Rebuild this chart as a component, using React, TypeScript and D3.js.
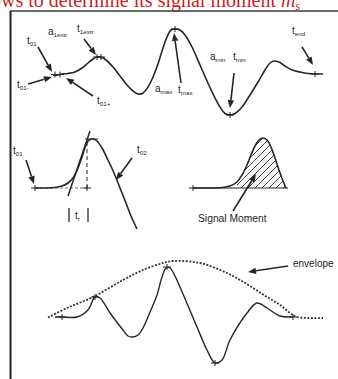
import React from 'react';
import * as d3 from 'd3';

// ---- data (panel units: t = time, a = amplitude above baseline) ----
const topT = [0, 5, 9, 15, 22, 29, 35, 40, 44, 48, 53, 60, 67, 74, 80, 85, 90, 95, 100, 105, 110, 114, 118, 122, 127, 132, 139, 147, 154, 161, 167, 172, 177, 182, 189, 197, 205, 212, 217, 221, 226, 232, 239, 247, 255, 262, 270];
const topA = [-1, -1, 0, 0.5, 2, 6, 11, 15, 17, 17, 14, 7, -2, -11, -17, -20, -19, -13, -3, 10, 26, 37, 44, 45, 44, 39, 27, 9, -7, -22, -33, -39.5, -41, -39.5, -33, -21, -8, 4, 11, 13, 12, 8, 4, 2, 0.5, 0, 0];
const topMarks = [[2, -0.5], [7, -0.5], [44, 17], [48, 17], [122, 45], [177, -41], [262, 0]];

const riseT = [0, 10, 20, 27, 33, 38, 43, 47, 51, 54, 58, 62, 67, 73, 79, 85, 91, 96, 102];
const riseA = [0, 0, 0.5, 2, 5, 10, 20, 31, 43, 48, 49, 47, 40, 28, 15, 0, -15, -28, -41];

const momT = [0, 17, 29, 37, 44, 49, 54, 58, 62, 66, 70, 74, 78, 82, 86, 90, 93];
const momA = [0, 0, 0.5, 2, 6, 13, 23, 33, 42, 48, 50, 48, 41, 30, 18, 7, 0];

const envT = [0, 19, 45, 75, 95, 115, 125, 152, 179, 192, 205, 219, 232, 242, 249, 275];
const envA = [-0.5, 9, 20, 37, 47, 54, 56, 54, 44, 37, 29, 20, 12, 4, 0, -1];
const sigT = [7, 14, 29, 40, 47, 52, 62, 75, 80, 85, 90, 95, 102, 109, 114, 118, 122, 127, 132, 149, 159, 167, 174, 182, 199, 209, 219, 232, 245];
const sigA = [0, 0, 0, 7, 20, 19, 4, -13, -19, -20, -18, -11, 5, 22, 40, 49, 49, 41, 30, -10, -33, -46, -43, -23, 4, 14, 9, 1, 0];
const sigMarks = [[14, 0], [47, 20], [119, 50], [167, -46], [245, 0]];

// annotations: [label, sub, t, a]
const topLabels = [
  ['t', '01', -26, 30], ['a', '1extr', -5, 39], ['t', '1extr', 24, 42], ['t', '01-', -36, -14],
  ['t', '01+', 44, -30], ['a', 'max', 102, -18], ['t', 'max', 125, -19], ['a', 'min', 157, 14],
  ['t', 'min', 180, 14], ['t', 'end', 239, 40],
];
// arrows: [t1, a1, t2, a2] (head at second point)
const topArrows = [
  [-15, 27, -1, 2], [31, 35, 43, 19], [-25, -10, -1, -3], [40, -22, 13, -4],
  [128, -9, 121, 41], [181, 1, 177, -34], [249, 27, 260, 9],
];

const zip = (t: number[], a: number[]) => t.map((v, i) => [v, a[i]] as [number, number]);

function panel(x0: number, y0: number) {
  const x = d3.scaleLinear().domain([0, 100]).range([x0, x0 + 100]);
  const y = d3.scaleLinear().domain([0, 100]).range([y0, y0 - 100]);
  return { x, y };
}

const INK = '#262626';

function Arrow({ x1, y1, x2, y2 }: any) {
  const ang = Math.atan2(y2 - y1, x2 - x1);
  const L = 8, W = 3.2;
  const bx = x2 - L * Math.cos(ang), by = y2 - L * Math.sin(ang);
  const px = -Math.sin(ang) * W, py = Math.cos(ang) * W;
  return (
    <g>
      <line x1={x1} y1={y1} x2={bx} y2={by} stroke={INK} strokeWidth={1.6} />
      <path d={`M${x2},${y2}L${bx + px},${by + py}L${bx - px},${by - py}Z`} fill={INK} />
    </g>
  );
}

function Mark({ cx, cy }: any) {
  return (
    <g stroke={INK} strokeWidth={1}>
      <line x1={cx - 4} x2={cx + 4} y1={cy} y2={cy} />
      <line x1={cx} x2={cx} y1={cy - 3} y2={cy + 3} />
    </g>
  );
}

function Lbl({ x, y, main, sub, size = 10 }: any) {
  return (
    <text x={x} y={y} fontFamily="Liberation Sans, Arial, sans-serif" fontSize={size} fill={INK}>
      {main}
      {sub && <tspan fontSize={size * 0.62} dy={2}>{sub}</tspan>}
    </text>
  );
}

export default function App() {
  const W = 338, H = 379;
  const line = d3.line().curve(d3.curveCatmullRom.alpha(0.5));

  const P1 = panel(53, 74);
  const P2 = panel(35, 188);
  const P3 = panel(193, 188);
  const P4 = panel(48, 317);

  const map = (P: any, pts: [number, number][]) => pts.map(([t, a]) => [P.x(t), P.y(a)] as [number, number]);

  // hatched area for signal moment
  const hatchPts = map(P3, zip(momT, momA).filter(([t]) => t >= 42));
  const areaPath = d3.area().curve(d3.curveCatmullRom.alpha(0.5)).x(d => d[0]).y0(P3.y(0)).y1(d => d[1])(hatchPts as any);
  const hatchLines = d3.range(-60, 60, 7);

  return (
    <svg width={W} height={H} style={{ position: 'absolute', left: 0, top: 0, background: '#fff' }}>
      <defs>
        <clipPath id="mom">
          <path d={areaPath || ''} />
        </clipPath>
      </defs>
      {/* title */}
      <text x={-9} y={7} fontFamily="Liberation Serif, Times New Roman, serif" fontSize={20} fill="#cc1f24">
        ows to determine its signal moment <tspan fontStyle="italic">m</tspan>
        <tspan fontSize={12} dy={3}>s</tspan>
      </text>
      {/* frame */}
      <line x1={10} x2={W} y1={11} y2={11} stroke="#3a3a3a" strokeWidth={1.5} />
      <line x1={10.5} x2={10.5} y1={11} y2={H} stroke="#222" strokeWidth={2} />

      {/* panel 1 */}
      <path d={line(map(P1, zip(topT, topA))) || ''} fill="none" stroke={INK} strokeWidth={1.6} />
      {topMarks.map(([t, a], i) => <Mark key={i} cx={P1.x(t)} cy={P1.y(a)} />)}
      {topArrows.map(([t1, a1, t2, a2], i) => (
        <Arrow key={i} x1={P1.x(t1)} y1={P1.y(a1)} x2={P1.x(t2)} y2={P1.y(a2)} />
      ))}
      {topLabels.map(([m, s, t, a], i) => <Lbl key={i} x={P1.x(t as number)} y={P1.y(a as number)} main={m} sub={s} />)}

      {/* panel 2: rise time */}
      <line x1={P2.x(0)} x2={P2.x(55)} y1={P2.y(0)} y2={P2.y(0)} stroke="#777" strokeWidth={1} strokeDasharray="3,2" />
      <path d={line(map(P2, zip(riseT, riseA))) || ''} fill="none" stroke={INK} strokeWidth={1.6} />
      <line x1={P2.x(33)} y1={P2.y(-8)} x2={P2.x(55)} y2={P2.y(57)} stroke={INK} strokeWidth={1.5} />
      <line x1={P2.x(52)} x2={P2.x(52)} y1={P2.y(0)} y2={P2.y(48)} stroke={INK} strokeWidth={1} strokeDasharray="4,3" />
      <line x1={P2.x(50)} x2={P2.x(63)} y1={P2.y(49)} y2={P2.y(49)} stroke={INK} strokeWidth={1} />
      <Mark cx={P2.x(0)} cy={P2.y(0)} />
      <Mark cx={P2.x(52)} cy={P2.y(0)} />
      <line x1={P2.x(34)} x2={P2.x(34)} y1={P2.y(-20)} y2={P2.y(-34)} stroke={INK} strokeWidth={1.3} />
      <line x1={P2.x(53)} x2={P2.x(53)} y1={P2.y(-20)} y2={P2.y(-34)} stroke={INK} strokeWidth={1.3} />
      <Lbl x={P2.x(40)} y={P2.y(-31)} main="t" sub="r" />
      <Lbl x={P2.x(-22)} y={P2.y(34)} main="t" sub="01" />
      <Arrow x1={P2.x(-9)} y1={P2.y(28)} x2={P2.x(-1)} y2={P2.y(4)} />
      <Lbl x={P2.x(102)} y={P2.y(35)} main="t" sub="02" />
      <Arrow x1={P2.x(97)} y1={P2.y(30)} x2={P2.x(81)} y2={P2.y(8)} />

      {/* panel 3: signal moment */}
      <g clipPath="url(#mom)" stroke="#444" strokeWidth={1}>
        {hatchLines.map((o, i) => (
          <line key={i} x1={P3.x(40 + o)} y1={P3.y(-5)} x2={P3.x(100 + o)} y2={P3.y(55)} />
        ))}
      </g>
      <line x1={P3.x(0)} x2={P3.x(95)} y1={P3.y(0)} y2={P3.y(0)} stroke={INK} strokeWidth={1.2} />
      <path d={line(map(P3, zip(momT, momA))) || ''} fill="none" stroke={INK} strokeWidth={1.6} />
      <Mark cx={P3.x(0)} cy={P3.y(0)} />
      <Arrow x1={P3.x(40)} y1={P3.y(-23)} x2={P3.x(63)} y2={P3.y(14)} />
      <text x={P3.x(5)} y={P3.y(-34)} fontFamily="Liberation Sans, Arial, sans-serif" fontSize={10.3} fill={INK}>Signal Moment</text>

      {/* panel 4: envelope */}
      <path d={line(map(P4, zip(envT, envA))) || ''} fill="none" stroke="#333" strokeWidth={1.8} strokeDasharray="2,1.5" />
      <path d={line(map(P4, zip(sigT, sigA))) || ''} fill="none" stroke={INK} strokeWidth={1.4} />
      {sigMarks.map(([t, a], i) => <Mark key={i} cx={P4.x(t)} cy={P4.y(a)} />)}
      <Arrow x1={P4.x(240)} y1={P4.y(51)} x2={P4.x(200)} y2={P4.y(45)} />
      <text x={P4.x(245)} y={P4.y(50)} fontFamily="Liberation Sans, Arial, sans-serif" fontSize={10} fill={INK}>envelope</text>
    </svg>
  );
}
